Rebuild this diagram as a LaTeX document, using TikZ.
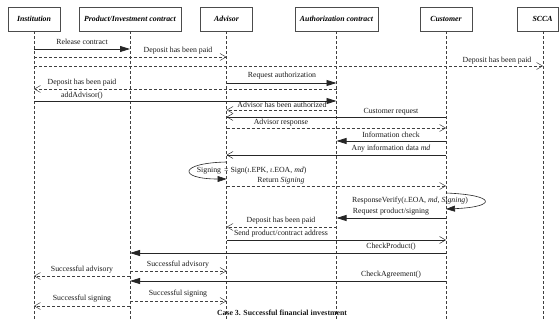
\documentclass[tikz,border=0pt]{standalone}
\usepackage{fontspec}
\setmainfont{Liberation Serif}
\usetikzlibrary{arrows.meta}

\tikzset{
  head/.style={draw=black!70, line width=0.6pt, minimum height=24pt, inner sep=0pt,
    font=\fontsize{7.8}{9}\selectfont\bfseries\itshape},
  lifeline/.style={draw=black!75, line width=0.5pt, dash pattern=on 3pt off 2pt},
  call/.style={draw=black!85, line width=0.8pt, -{Triangle[length=10pt,width=6pt]}},
  callthin/.style={draw=black!85, line width=0.6pt, -{Triangle[length=9pt,width=6pt]}},
  reply/.style={draw=black!75, line width=0.6pt, dash pattern=on 3pt off 2pt,
    -{Straight Barb[length=6pt,width=7pt,line width=0.5pt]}},
  signal/.style={draw=black!85, line width=0.8pt,
    -{Straight Barb[length=6pt,width=7pt,line width=0.5pt]}},
  lbl/.style={inner sep=0pt, text=black!90},
}

\begin{document}
\begin{tikzpicture}[x=1pt, y=-1pt, font=\fontsize{7.8}{9}\selectfont]
\useasboundingbox (0,0) rectangle (559,320);

% participants
\node[head, minimum width=52pt]  (inst) at (34,19)    {Institution};
\node[head, minimum width=102pt] (prod) at (130,19)   {Product/Investment contract};
\node[head, minimum width=52pt]  (adv)  at (226.5,19) {Advisor};
\node[head, minimum width=83pt]  (auth) at (336.5,19) {Authorization contract};
\node[head, minimum width=52pt]  (cust) at (446,19)   {Customer};
\node[head, minimum width=41pt]  (scca) at (537.5,19) {\hspace*{10pt}SCCA};
\coordinate (sccaL) at (543,31);

% lifelines
\draw[lifeline] (inst.south) -- (inst.south |- 0,320);
\draw[lifeline] (prod.south) -- (prod.south |- 0,320);
\draw[lifeline] (adv.south)  -- (adv.south |- 0,320);
\draw[lifeline] (auth.south) -- (auth.south |- 0,320);
\draw[lifeline] (cust.south) -- (cust.south |- 0,320);
\draw[lifeline] (sccaL) -- (sccaL |- 0,320);

% messages
\draw[call]  (inst |- 0,49) -- (prod |- 0,49);
\node[lbl] (t1) at (82,42) {Release contract};

\draw[reply] (inst |- 0,57) -- (adv |- 0,57);
\node[lbl] (t2) at (178,51) {Deposit has been paid};

\draw[reply] (inst |- 0,66) -- (sccaL |- 0,66);
\node[lbl] (t3) at (497,61) {Deposit has been paid};

\draw[call]  (adv |- 0,83) -- (auth |- 0,83);
\node[lbl] (t4) at (282,76) {Request authorization};

\draw[reply] (auth |- 0,89) -- (inst |- 0,89);
\node[lbl] (t5) at (82,83) {Deposit has been paid};

\draw[call]  (inst |- 0,101) -- (auth |- 0,101);
\node[lbl] (t6) at (82,96) {addAdvisor()};

\draw[reply] (auth |- 0,110) -- (adv |- 0,110);
\node[lbl] (t7) at (282,105) {Advisor has been authorized};

\draw[signal] (cust |- 0,117) -- (adv |- 0,117);
\node[lbl] (t8) at (391,112) {Customer request};

\draw[reply] (adv |- 0,128) -- (cust |- 0,128);
\node[lbl] (t9) at (281,123) {Advisor response};

\draw[call]  (cust |- 0,141) -- (auth |- 0,141);
\node[lbl] (t10) at (391,135) {Information check};

\draw[signal] (cust |- 0,155) -- (adv |- 0,155);
\node[lbl] (t11) at (391,149) {Any information data \textit{md}};

% self call of the advisor
\draw[callthin] (adv |- 0,162) .. controls (178,163) and (178,179) .. (adv |- 0,179);
\node[lbl] (t12a) at (209,171) {Signing};
\node[lbl, anchor=west] (t12b) at (224,171) {= Sign(\textit{ι}.EPK, \textit{ι}.EOA, \textit{md})};

\draw[reply] (adv |- 0,186) -- (cust |- 0,186);
\node[lbl] (t13) at (281,181) {Return \textit{Signing}};

% self call of the customer
\draw[callthin] (cust |- 0,193) .. controls (497,195) and (497,207) .. (cust |- 0,209);
\node[lbl] (t14) at (410,201) {ResponseVerify(\textit{ι}.EOA, \textit{md}, \textit{Signing})};

\draw[call]  (cust |- 0,218) -- (auth |- 0,218);
\node[lbl] (t15) at (391,212) {Request product/signing};

\draw[reply] (auth |- 0,227) -- (adv |- 0,227);
\node[lbl] (t16) at (281,221) {Deposit has been paid};

\draw[signal] (adv |- 0,240) -- (cust |- 0,240);
\node[lbl] (t17) at (281,234) {Send product/contract address};

\draw[call]  (cust |- 0,253) -- (prod |- 0,253);
\node[lbl] (t18) at (391,247) {CheckProduct()};

\draw[reply] (prod |- 0,271) -- (adv |- 0,271);
\node[lbl] (t19) at (178,265) {Successful advisory};

\draw[reply] (prod |- 0,276) -- (inst |- 0,276);
\node[lbl] (t20) at (82,270) {Successful advisory};

\draw[call]  (cust |- 0,281) -- (prod |- 0,281);
\node[lbl] (t21) at (391,275) {CheckAgreement()};

\draw[reply] (prod |- 0,301) -- (adv |- 0,301);
\node[lbl] (t22) at (178,294) {Successful signing};

\draw[reply] (prod |- 0,306) -- (inst |- 0,306);
\node[lbl] (t23) at (82,299) {Successful signing};

% caption
\node[lbl, font=\fontsize{7.8}{9}\selectfont\bfseries] (cap) at (282,313)
  {Case 3. Successful financial investment};
\end{tikzpicture}
\end{document}
